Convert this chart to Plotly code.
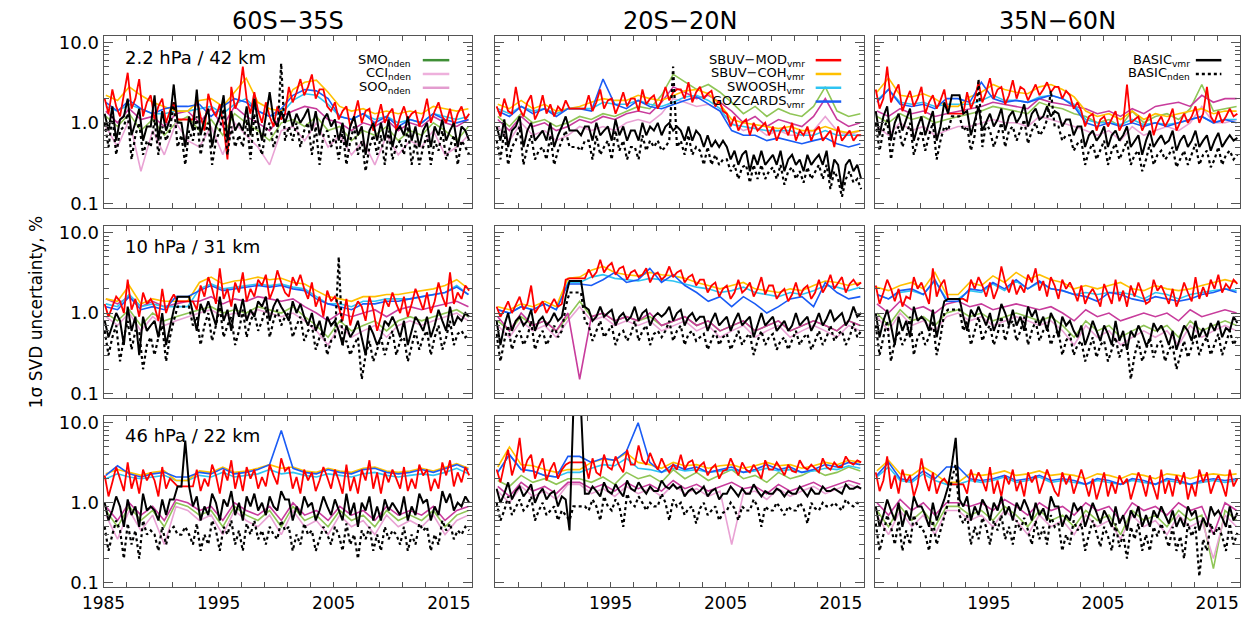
import plotly.graph_objects as go

# ---------------- time axes (4-monthly and annual sampling) ----------------
T_4M = [round(1985.1 + i / 3, 3) for i in range(96)]
T_YEAR = [round(1985.2 + i * 31.5 / 31, 3) for i in range(32)]

COL_TITLES = ["60S\u221235S", "20S\u221220N", "35N\u221260N"]
ROW_LABELS = ["2.2 hPa / 42 km", "10 hPa / 31 km", "46 hPa / 22 km"]
X_TICKS_FIRST = [1985, 1995, 2005, 2015]
X_TICKS_OTHER = [1995, 2005, 2015]
Y_TICKS = [0.1, 1.0, 10.0]
Y_TICK_TEXT = ["0.1", "1.0", "10.0"]

# ================= Row 1 : 2.2 hPa =================
# --- 60S-35S ---
P11_MOD = [2.0,1.3,2.6,1.6,1.2,2.3,4.2,1.5,2.0,3.5,1.2,1.8,
           2.2,1.1,1.6,2.0,1.0,1.4,1.8,1.1,1.1,1.1,1.1,1.1,
           2.0,1.2,0.8,2.3,1.5,1.2,1.7,0.9,0.35,2.8,1.5,2.0,
           5.0,2.0,1.3,2.4,1.4,1.0,1.8,1.2,0.9,1.6,1.1,1.3,
           2.8,1.8,2.4,3.5,2.2,2.8,4.0,2.0,2.6,2.6,1.6,1.4,
           1.8,1.1,1.4,1.6,0.9,1.2,1.9,1.0,1.4,1.5,0.8,1.1,
           1.7,1.0,1.3,1.5,0.8,1.2,1.6,1.1,1.3,1.4,0.9,1.2,
           2.0,1.0,1.4,1.8,1.2,1.0,1.5,0.9,1.3,1.6,1.1,1.3]
P11_BVMR = [1.3,0.8,1.6,0.6,1.1,1.2,2.0,0.7,1.0,1.5,0.6,0.9,
            0.9,2.2,0.6,1.4,0.8,1.1,3.0,1.0,1.0,0.5,1.2,0.8,
            2.6,0.7,1.1,1.5,0.5,0.9,1.2,2.2,0.6,1.4,0.8,1.0,
            0.8,1.6,0.7,2.0,1.0,0.6,1.2,2.4,1.1,0.9,1.4,1.0,
            1.4,0.9,1.3,1.0,1.2,1.5,0.8,1.4,0.7,1.1,1.3,0.9,
            1.1,0.6,1.0,0.5,0.9,1.2,0.7,0.9,0.4,0.8,1.0,0.6,
            1.0,0.6,1.1,0.5,0.8,0.9,0.7,1.2,0.6,0.9,0.5,0.8,
            1.0,0.5,0.9,0.7,1.1,0.6,0.8,1.0,0.5,0.9,0.8,0.6]
P11_BNDEN = [1.0,0.5,1.2,0.4,0.8,0.9,1.3,0.35,0.7,1.0,0.4,0.6,
             0.5,1.1,0.4,0.9,0.6,0.8,1.8,0.5,0.7,0.3,0.8,0.6,
             1.2,0.4,0.7,1.0,0.3,0.6,0.8,1.5,0.4,0.9,0.5,0.7,
             0.5,1.1,0.35,1.3,0.6,0.4,0.8,1.0,0.5,0.7,5.5,0.6,
             0.9,0.6,1.0,0.5,0.8,1.0,0.4,0.9,0.3,0.7,0.8,0.5,
             0.7,0.35,0.8,0.3,0.6,0.9,0.4,0.6,0.25,0.5,0.7,0.4,
             0.7,0.3,0.8,0.35,0.5,0.6,0.4,0.9,0.3,0.6,0.3,0.5,
             0.7,0.3,0.6,0.45,0.8,0.35,0.5,0.7,0.3,0.6,0.5,0.4]
P11_COH = [2.2,1.9,2.8,2.2,1.8,1.6,1.4,1.4, 1.9,2.0,1.6,2.4,3.6,1.8,1.5,1.4,
           2.6,3.2,3.4,2.4,1.6,1.4,1.5,1.3, 1.4,1.3,1.4,1.3,1.6,1.5,1.4,1.5]
P11_SWOOSH = [1.6,1.4,1.7,1.5,1.3,1.3,1.4,1.4, 1.5,1.6,1.3,1.7,2.0,1.4,1.2,1.3,
              1.9,2.3,2.2,1.7,1.2,1.1,1.3,1.1, 1.2,1.0,1.1,1.0,1.3,1.2,1.1,1.2]
P11_GOZ = [1.8,1.4,1.9,1.5,1.3,1.5,1.6,1.6, 1.7,1.2,1.6,2.0,1.8,1.4,1.2,1.5,
           2.2,2.6,2.5,2.0,1.2,1.1,1.3,1.0, 1.2,0.9,1.1,1.0,1.3,1.1,1.0,1.1]
P11_SMO = [1.2,0.9,1.3,0.8,1.1,0.7,1.0,1.2, 0.8,1.1,0.7,1.3,1.0,0.8,0.6,1.0,
           1.1,0.9,1.2,0.8,0.9,0.6,0.8,0.7, 0.9,0.6,0.8,0.7,1.0,0.8,0.6,0.9]
P11_CCI = [0.9,0.5,1.1,0.25,0.8,0.4,1.0,0.6, 0.5,0.9,0.4,1.0,0.7,0.5,0.3,0.8,
           0.9,0.6,1.0,0.5,0.7,0.4,0.6,0.3, 0.7,0.4,0.6,0.5,0.8,0.4,0.5,0.7]
P11_SOO = [1.4,1.0,1.5,1.1,1.2,0.9,1.3,1.4, 1.0,1.5,0.9,1.6,1.2,1.0,0.8,1.2,
           1.4,1.6,1.5,1.1,1.0,0.8,1.0,0.9, 1.1,0.8,1.0,0.9,1.2,1.0,0.9,1.1]

# --- 20S-20N ---
P12_MOD = [1.6,1.2,2.0,1.4,1.3,2.8,1.5,1.2,1.8,2.2,1.1,1.4,
           2.2,1.3,1.7,1.2,1.6,1.4,1.9,1.5,1.5,1.5,1.5,1.5,
           2.2,1.4,1.8,2.6,1.5,1.9,2.0,1.3,1.7,2.4,1.6,2.0,
           2.0,1.4,2.6,1.7,2.0,2.2,1.5,1.9,2.8,1.9,2.4,2.6,
           2.6,2.0,3.2,1.8,2.4,2.8,2.0,2.3,2.5,1.6,1.9,1.4,
           1.3,0.9,1.2,0.8,1.0,1.1,0.7,1.0,0.8,0.9,1.0,0.7,
           0.9,0.6,0.8,0.9,0.7,1.0,0.6,0.8,0.7,0.9,0.6,0.8,
           0.9,0.6,0.7,0.8,0.5,0.9,0.6,0.7,0.8,0.6,0.7,0.7]
P12_BVMR = [0.9,0.6,1.1,0.5,0.8,0.9,1.2,0.5,0.8,1.0,0.6,0.7,
            0.8,0.6,1.0,0.5,0.7,0.9,1.2,0.8,0.8,0.8,0.7,0.9,
            0.9,0.6,1.0,0.7,0.8,0.9,0.6,1.1,0.7,0.9,0.6,0.8,
            0.8,0.6,1.0,0.7,0.9,0.8,1.0,0.7,0.9,1.0,0.8,0.9,
            0.8,0.6,0.9,0.6,0.8,0.7,0.5,0.7,0.5,0.6,0.5,0.6,
            0.5,0.35,0.45,0.3,0.4,0.45,0.25,0.4,0.3,0.45,0.3,0.35,
            0.4,0.3,0.45,0.25,0.35,0.4,0.3,0.35,0.25,0.4,0.3,0.35,
            0.4,0.3,0.45,0.2,0.35,0.3,0.15,0.3,0.35,0.25,0.3,0.2]
P12_BNDEN = [0.6,0.35,0.8,0.3,0.5,0.6,0.9,0.3,0.5,0.7,0.35,0.45,
             0.5,0.35,0.7,0.3,0.45,0.6,0.8,0.5,0.5,0.5,0.45,0.6,
             0.6,0.35,0.7,0.4,0.5,0.6,0.35,0.8,0.45,0.6,0.35,0.5,
             0.5,0.35,0.7,0.45,0.6,0.5,0.6,0.45,0.5,0.6,5.0,0.5,
             0.6,0.4,0.7,0.4,0.5,0.45,0.3,0.5,0.3,0.4,0.3,0.35,
             0.35,0.25,0.3,0.2,0.28,0.3,0.18,0.3,0.2,0.3,0.2,0.25,
             0.28,0.2,0.3,0.17,0.25,0.28,0.2,0.25,0.18,0.28,0.2,0.25,
             0.3,0.2,0.3,0.15,0.25,0.2,0.12,0.2,0.25,0.18,0.2,0.15]
P12_COH = [1.7,1.5,1.9,1.5,1.7,1.4,1.5,1.6, 1.8,2.0,1.9,1.9,2.2,2.0,1.9,2.2,
           2.5,2.6,2.3,1.7,1.1,1.0,0.95,0.9, 0.85,0.9,0.8,0.8,0.9,0.8,0.75,0.8]
P12_SWOOSH = [1.5,1.3,1.6,1.4,1.5,1.3,1.5,1.5, 1.5,1.8,1.7,1.7,1.9,1.7,1.6,1.8,
              2.1,2.2,1.9,1.5,0.95,0.9,0.85,0.8, 0.8,0.8,0.7,0.7,0.8,0.7,0.7,0.7]
P12_GOZ = [1.4,1.2,1.6,1.3,1.5,1.2,1.5,1.5, 1.4,3.5,1.7,1.5,1.9,1.6,1.5,1.7,
           1.9,2.1,1.7,1.4,0.8,0.7,0.7,0.6, 0.65,0.6,0.55,0.6,0.65,0.55,0.5,0.55]
P12_SMO = [1.2,0.9,1.3,1.0,1.1,0.9,1.0,1.2, 1.1,1.3,1.2,1.4,1.6,1.5,2.2,4.0,
           3.2,2.6,3.0,2.4,1.8,1.3,1.6,1.2, 1.5,1.3,1.2,1.6,2.8,1.4,1.2,1.3]
P12_CCI = [0.9,0.6,1.0,0.7,0.8,0.6,0.7,0.9, 0.8,0.9,0.8,1.0,1.1,1.0,1.3,2.0,
           1.8,1.6,1.7,1.4,1.0,0.8,0.9,0.7, 0.8,0.7,0.7,0.8,1.2,0.8,0.7,0.8]
P12_SOO = [1.1,0.8,1.2,0.9,1.0,0.8,0.9,1.1, 1.0,1.2,1.1,1.3,1.4,1.3,1.8,2.8,
           2.4,2.0,2.2,1.8,1.4,1.0,1.2,0.9, 1.1,1.0,0.9,1.2,2.0,1.1,0.9,1.0]

# --- 35N-60N ---
P13_MOD = [2.6,1.5,2.0,5.0,1.8,2.4,3.0,1.4,1.9,2.5,1.6,2.0,
           2.8,1.3,1.8,2.2,1.5,1.9,2.6,1.3,1.3,1.3,1.3,1.3,
           2.4,1.5,2.0,3.2,1.8,2.4,3.6,2.0,2.6,2.8,1.7,2.2,
           3.4,2.0,2.8,2.6,1.9,2.4,3.0,2.2,2.6,3.2,2.4,2.8,
           2.8,2.0,2.5,2.2,1.5,1.8,1.4,0.9,1.2,1.3,0.8,1.1,
           1.2,0.9,1.1,1.4,0.8,1.0,3.0,1.0,1.1,1.2,0.8,1.0,
           1.3,0.7,1.0,1.2,0.9,1.1,1.5,0.8,1.0,1.3,1.0,1.2,
           1.6,1.0,1.3,2.8,1.2,1.0,1.4,1.0,1.2,1.5,1.2,1.3]
P13_BVMR = [1.4,0.7,1.2,1.6,0.6,1.0,1.3,0.8,1.1,1.5,0.6,0.9,
            1.2,0.7,1.0,1.4,0.6,0.9,1.8,1.3,2.2,2.2,2.2,1.3,
            1.4,0.7,1.1,1.6,0.8,1.0,1.3,0.9,1.1,1.5,0.8,1.2,
            1.4,1.0,1.2,1.7,0.9,1.3,1.5,1.1,1.2,1.6,1.2,1.4,
            1.3,0.9,1.1,1.1,0.7,0.9,0.9,0.5,0.7,0.8,0.6,0.7,
            0.9,0.5,0.7,0.8,0.6,0.7,0.9,0.5,0.6,0.7,0.4,0.6,
            0.8,0.5,0.6,0.7,0.55,0.6,0.8,0.45,0.6,0.7,0.5,0.6,
            0.8,0.5,0.6,0.7,0.45,0.6,0.75,0.5,0.6,0.7,0.6,0.65]
P13_BNDEN = [1.0,0.45,0.8,1.1,0.35,0.7,0.9,0.5,0.7,1.0,0.4,0.6,
             0.8,0.45,0.7,1.0,0.35,0.6,0.9,0.8,1.2,1.2,1.2,0.8,
             0.9,0.45,0.7,3.5,0.5,1.0,0.8,0.5,0.7,1.0,0.5,0.8,
             0.9,0.6,0.8,1.1,0.55,0.8,1.0,0.7,0.8,1.1,2.5,0.9,
             0.9,0.6,0.7,0.7,0.45,0.55,0.6,0.3,0.45,0.55,0.35,0.45,
             0.6,0.3,0.45,0.55,0.35,0.45,0.6,0.3,0.4,0.45,0.25,0.35,
             0.55,0.3,0.4,0.45,0.35,0.4,0.5,0.28,0.35,0.45,0.3,0.4,
             0.55,0.3,0.4,0.45,0.28,0.35,0.5,0.3,0.4,0.45,0.35,0.4]
P13_COH = [2.4,3.6,2.2,2.1,2.3,2.0,1.6,1.6, 2.1,2.4,3.0,2.6,2.4,2.3,2.8,3.0,
           2.6,2.1,1.4,1.2,1.3,1.1,1.4,1.1, 1.3,1.2,1.3,1.4,1.5,1.3,1.4,1.4]
P13_SWOOSH = [1.9,2.6,1.8,1.7,1.8,1.6,1.7,1.7, 1.7,1.9,2.2,1.9,1.9,1.8,2.1,2.2,
              2.0,1.7,1.1,1.0,1.0,0.95,1.1,0.95, 1.0,0.95,1.0,1.1,1.2,1.0,1.1,1.1]
P13_GOZ = [1.8,2.6,1.7,1.6,1.7,1.5,2.0,2.0, 1.8,3.2,2.0,1.8,1.9,1.8,2.0,2.2,
           2.0,1.6,1.0,0.9,1.0,0.9,1.0,0.9, 1.0,0.9,1.0,1.1,1.2,1.0,1.1,1.0]
P13_SMO = [1.2,1.0,1.3,1.1,1.2,1.0,1.1,1.2, 1.3,1.4,1.6,1.5,1.4,1.3,1.8,1.6,
           1.5,1.3,1.2,1.0,1.1,0.9,1.4,1.0, 1.2,1.3,1.1,1.5,3.0,1.4,1.5,1.6]
P13_CCI = [0.9,0.7,1.0,0.8,0.9,0.7,0.8,0.9, 0.9,1.0,1.1,1.0,1.0,0.9,1.2,1.1,
           1.0,0.9,0.8,0.7,0.8,0.6,0.9,0.7, 0.8,0.9,0.8,1.0,1.6,1.0,1.0,1.1]
P13_SOO = [1.4,1.2,1.5,1.3,1.4,1.2,1.3,1.4, 1.5,1.6,1.8,1.7,1.6,1.5,2.0,1.8,
           1.7,1.6,1.5,1.3,1.4,1.2,1.5,1.3, 1.6,1.7,1.8,1.6,2.2,1.8,2.0,2.0]

# ================= Row 2 : 10 hPa =================
# --- 60S-35S ---
P21_MOD = [1.3,0.9,1.2,1.6,1.4,1.0,2.6,1.1,1.5,0.9,1.8,1.3,
           1.5,1.2,0.8,2.0,1.0,1.4,1.7,1.4,1.4,1.4,1.4,1.4,
           1.1,2.2,1.6,2.8,2.0,1.3,3.6,1.5,2.0,1.2,2.4,1.8,
           3.2,1.4,2.0,1.6,2.6,2.2,3.0,1.5,2.0,3.4,2.4,1.8,
           1.6,2.8,2.2,3.0,2.0,1.5,2.4,1.2,1.6,0.9,1.9,1.4,
           1.6,1.2,0.8,1.5,0.7,1.1,1.4,1.2,0.8,1.6,1.1,0.6,
           0.9,1.5,1.2,1.8,1.3,1.0,1.6,0.9,1.3,2.0,1.5,1.1,
           1.8,1.0,1.4,2.4,1.6,1.2,3.2,1.3,1.8,1.5,2.2,1.9]
P21_BVMR = [0.8,0.5,0.7,1.0,0.8,0.4,1.2,0.6,0.9,0.3,0.9,0.6,
            0.7,0.8,0.5,1.0,0.4,0.7,1.1,1.6,1.6,1.6,1.6,1.0,
            0.6,1.3,1.0,1.4,1.0,0.7,1.6,0.8,1.1,0.6,1.3,0.9,
            1.5,0.8,1.1,0.9,1.4,1.2,1.6,0.8,1.2,1.5,1.2,1.0,
            0.8,1.4,1.0,1.3,0.9,0.7,1.0,0.6,0.8,0.5,0.9,0.7,
            0.8,0.6,0.4,0.7,0.5,0.6,0.8,0.5,0.3,0.7,0.55,0.4,
            0.5,0.8,0.7,0.9,0.7,0.5,0.8,0.4,0.6,0.9,0.75,0.6,
            0.9,0.5,0.7,1.1,0.8,0.6,1.2,0.7,0.9,0.8,1.0,0.9]
P21_BNDEN = [0.6,0.3,0.5,0.7,0.25,0.5,0.8,0.35,0.6,0.6,0.2,0.4,
             0.5,0.3,0.5,0.7,0.25,0.5,0.8,1.2,1.2,1.2,1.2,0.7,
             0.9,0.4,0.7,1.0,0.45,0.7,1.2,0.5,0.7,0.9,0.4,0.6,
             1.1,0.5,0.8,1.0,0.6,0.8,1.2,0.5,0.8,1.1,0.7,0.9,
             1.0,0.5,0.7,0.9,0.45,0.6,0.7,0.35,0.5,0.6,0.3,0.45,
             0.5,5.0,0.4,0.45,0.3,0.4,0.5,0.15,0.3,0.45,0.25,0.35,
             0.5,0.3,0.45,0.6,0.3,0.45,0.5,0.25,0.4,0.6,0.35,0.5,
             0.6,0.3,0.5,0.7,0.35,0.5,0.8,0.4,0.55,0.6,0.5,0.55]
P21_COH = [1.5,1.4,2.2,1.3,1.5,1.4,1.4,1.4, 2.4,2.8,2.3,2.5,2.6,2.8,2.6,2.7,
           2.4,2.3,1.9,1.6,1.5,1.4,1.6,1.6, 1.7,1.7,1.8,1.9,2.0,2.2,2.6,2.0]
P21_SWOOSH = [1.3,1.2,1.7,1.2,1.3,1.2,1.2,1.2, 2.0,2.3,2.0,2.1,2.2,2.3,2.2,2.3,
              2.1,2.0,1.6,1.3,1.3,1.2,1.4,1.4, 1.5,1.5,1.5,1.6,1.7,1.8,2.2,1.7]
P21_GOZ = [1.2,1.1,1.6,1.1,1.2,1.1,1.6,1.6, 1.9,2.2,1.9,2.0,2.1,2.2,2.1,2.2,
           2.0,1.9,1.5,1.3,1.2,1.1,1.3,1.3, 1.4,1.4,1.5,1.6,1.7,1.8,2.1,1.7]
P21_SMO = [1.0,0.8,1.1,0.7,1.0,0.8,0.9,1.0, 1.1,1.2,1.0,1.1,1.0,1.2,1.1,1.0,
           1.2,0.9,0.7,0.5,0.8,0.6,0.7,0.8, 0.6,0.8,0.9,0.8,0.9,1.0,1.1,0.9]
P21_CCI = [0.9,0.7,1.0,0.6,0.9,0.7,0.8,0.9, 1.0,1.1,0.9,1.0,0.9,1.1,1.0,0.9,
           1.0,0.8,0.6,0.4,0.7,0.5,0.6,0.7, 0.5,0.7,0.8,0.7,0.8,0.9,1.0,0.8]
P21_SOO = [1.5,1.3,1.6,1.2,1.4,1.2,1.3,1.4, 1.4,1.6,1.3,1.5,1.4,1.6,1.5,1.4,
           1.5,1.2,1.0,0.8,1.0,0.9,1.0,1.1, 0.9,1.1,1.2,1.1,1.2,1.3,1.4,1.2]

# --- 20S-20N ---
P22_MOD = [1.2,0.9,1.1,1.4,1.0,1.3,1.6,1.1,1.3,2.2,1.0,1.2,
           1.4,1.0,1.2,1.5,1.2,1.3,2.6,2.7,2.7,2.7,2.7,2.7,
           3.5,2.8,3.2,4.6,3.2,3.8,4.2,3.0,3.6,3.8,2.6,3.2,
           3.4,2.8,3.0,3.6,2.4,3.0,3.2,2.6,2.9,3.8,2.8,3.2,
           3.4,2.4,2.8,3.0,2.2,2.6,2.6,1.8,2.2,2.4,1.6,2.0,
           2.2,1.5,1.8,2.6,1.8,2.0,2.4,1.6,2.0,2.8,1.7,2.2,
           2.2,1.5,1.8,2.0,1.4,1.7,2.4,1.6,2.0,2.2,1.5,1.8,
           2.6,1.8,2.2,3.0,2.0,2.4,2.8,1.8,2.3,2.6,2.2,2.4]
P22_BVMR = [0.8,0.4,0.7,1.0,0.6,0.8,0.9,0.7,0.8,1.1,0.6,0.8,
            0.9,0.7,0.8,1.0,0.8,0.9,1.6,2.5,2.5,2.5,2.5,1.2,
            1.1,0.8,0.9,1.2,0.9,1.0,1.1,0.7,0.9,1.0,0.8,0.9,
            1.2,0.8,1.0,1.1,0.7,0.9,1.0,0.9,1.0,1.2,0.8,1.0,
            1.1,0.7,0.9,1.0,0.8,0.9,0.9,0.6,0.8,1.0,0.7,0.8,
            0.9,0.6,0.8,1.0,0.7,0.8,0.9,0.5,0.7,1.0,0.7,0.8,
            0.9,0.6,0.7,0.8,0.6,0.7,1.0,0.7,0.8,0.9,0.6,0.75,
            1.0,0.7,0.85,1.1,0.8,0.9,1.0,0.7,0.85,1.2,0.9,1.0]
P22_BNDEN = [0.55,0.25,0.45,0.7,0.35,0.5,0.6,0.4,0.5,0.8,0.35,0.5,
             0.6,0.4,0.5,0.7,0.5,0.6,1.2,1.8,1.8,1.8,1.8,0.8,
             0.7,0.45,0.6,0.8,0.5,0.6,0.7,0.4,0.55,0.6,0.45,0.55,
             0.8,0.45,0.6,0.7,0.4,0.55,0.6,0.5,0.6,0.8,0.45,0.6,
             0.7,0.4,0.55,0.6,0.45,0.5,0.55,0.35,0.45,0.6,0.4,0.5,
             0.55,0.35,0.45,0.6,0.4,0.5,0.55,0.3,0.45,0.6,0.4,0.5,
             0.55,0.35,0.45,0.5,0.35,0.45,0.6,0.4,0.5,0.55,0.35,0.45,
             0.6,0.4,0.5,0.7,0.45,0.55,0.6,0.4,0.5,0.75,0.5,0.6]
P22_COH = [1.2,1.1,1.3,1.2,1.4,1.2,2.7,2.8, 3.4,3.8,3.2,3.0,2.9,3.2,3.0,2.9,
           2.7,2.4,2.2,2.0,2.2,2.4,2.0,1.9, 1.8,2.0,1.9,2.2,2.5,2.4,2.2,2.4]
P22_SWOOSH = [1.1,1.0,1.2,1.1,1.3,1.1,2.4,2.4, 2.8,3.0,2.7,2.6,2.5,2.7,2.6,2.5,
              2.3,2.1,2.0,1.8,1.9,2.1,1.8,1.7, 1.6,1.8,1.7,1.9,2.2,2.1,1.9,2.1]
P22_GOZ = [1.1,1.0,1.2,1.1,1.3,1.1,2.3,2.3, 2.2,2.6,3.2,2.4,2.6,3.6,2.4,3.0,
           2.2,1.8,1.4,1.6,1.2,1.6,1.3,1.0, 1.2,1.5,1.6,1.2,2.4,1.8,1.5,1.6]
P22_SMO = [0.8,0.6,0.9,0.7,0.8,0.6,0.9,1.4, 0.9,1.0,0.8,0.9,0.8,0.9,0.7,0.8,
           0.9,0.7,0.8,0.6,0.7,0.8,0.6,0.7, 0.8,0.6,0.7,0.8,0.7,0.6,0.8,0.7]
P22_CCI = [0.7,0.5,0.8,0.6,0.7,0.5,0.8,1.2, 0.8,0.9,0.7,0.8,0.7,0.8,0.6,0.7,
           0.8,0.6,0.7,0.5,0.6,0.7,0.5,0.6, 0.7,0.5,0.6,0.7,0.6,0.5,0.7,0.6]
P22_SOO = [0.9,0.6,1.0,0.7,0.8,0.6,1.0,0.15, 0.9,1.0,0.8,0.9,0.8,1.0,0.7,0.8,
           0.9,0.7,0.8,0.6,0.7,0.8,0.6,0.7, 0.8,0.6,0.7,0.8,0.7,0.6,0.8,0.7]

# --- 35N-60N ---
P23_MOD = [2.2,1.3,1.8,2.6,2.0,1.4,2.0,1.2,1.6,1.5,2.8,2.0,
           2.4,1.8,1.3,3.6,1.6,2.2,2.6,1.5,1.5,1.5,1.5,1.5,
           1.4,2.6,2.0,2.8,2.2,1.6,2.4,1.5,2.0,3.8,2.4,1.8,
           2.6,1.7,2.2,1.8,3.0,2.4,3.6,1.9,2.5,1.6,2.8,2.2,
           1.5,2.6,2.0,2.4,1.9,1.4,2.2,1.3,1.7,2.0,1.6,1.2,
           2.3,1.7,1.3,2.6,1.4,1.9,1.2,2.2,1.6,2.4,1.8,1.3,
           1.4,2.6,1.9,2.2,1.7,1.3,2.0,1.2,1.6,2.4,1.8,1.4,
           2.8,1.5,2.1,1.6,2.6,2.0,3.0,1.8,2.3,2.0,2.6,2.3]
P23_BVMR = [1.0,0.5,0.8,1.1,0.7,0.4,0.9,0.6,0.8,0.5,1.2,0.8,
            0.9,0.8,0.6,1.1,0.5,0.8,1.4,1.5,1.5,1.5,1.5,0.9,
            0.6,1.1,0.9,1.2,0.9,0.7,1.0,0.6,0.8,1.3,1.0,0.7,
            1.1,0.7,0.9,0.6,1.2,0.9,1.1,0.7,0.9,0.6,1.0,0.8,
            0.5,0.9,0.7,0.8,0.6,0.5,0.7,0.4,0.55,0.8,0.6,0.45,
            0.7,0.55,0.4,0.8,0.45,0.6,0.35,0.6,0.5,0.7,0.55,0.4,
            0.45,0.75,0.6,0.7,0.55,0.4,0.6,0.35,0.5,0.7,0.6,0.45,
            0.8,0.5,0.65,0.5,0.75,0.6,0.8,0.5,0.65,0.6,0.9,0.75]
P23_BNDEN = [0.7,0.3,0.5,0.8,0.25,0.45,0.6,0.4,0.5,0.9,0.3,0.5,
             0.6,0.4,0.5,0.8,0.3,0.5,1.0,1.1,1.1,1.1,1.1,0.6,
             0.8,0.4,0.6,0.9,0.45,0.6,0.7,0.4,0.55,0.9,0.45,0.7,
             0.8,0.45,0.6,0.9,0.4,0.6,0.8,0.45,0.6,0.7,0.4,0.55,
             0.6,0.3,0.45,0.55,0.3,0.4,0.45,0.25,0.35,0.5,0.28,0.4,
             0.45,0.25,0.35,0.5,0.28,0.4,0.4,0.15,0.3,0.45,0.25,0.35,
             0.5,0.28,0.4,0.45,0.25,0.35,0.4,0.2,0.3,0.45,0.28,0.38,
             0.55,0.3,0.42,0.5,0.3,0.4,0.55,0.3,0.42,0.6,0.4,0.5]
P23_COH = [2.1,1.9,2.2,2.4,2.0,3.2,1.7,1.7, 2.4,2.2,2.9,2.4,3.2,2.6,3.0,2.6,
           2.4,2.0,2.2,2.0,2.2,2.4,2.0,1.9, 2.2,2.0,1.9,2.0,2.2,2.4,2.6,2.4]
P23_SWOOSH = [1.7,1.5,1.8,1.9,1.7,2.5,1.5,1.5, 1.9,1.8,2.3,1.9,2.5,2.0,2.4,2.0,
              1.9,1.7,1.8,1.7,1.8,1.8,1.7,1.5, 1.8,1.7,1.5,1.7,1.8,1.9,2.0,1.9]
P23_GOZ = [1.7,1.5,1.9,2.0,1.7,2.6,1.4,1.4, 2.0,1.9,2.4,2.0,2.6,2.0,2.5,2.0,
           1.9,1.7,1.6,1.4,1.8,1.7,1.5,1.4, 1.6,1.5,1.4,1.5,1.7,1.8,2.0,1.8]
P23_SMO = [1.0,0.7,1.1,0.8,0.9,0.7,1.0,1.1, 0.9,1.0,0.8,0.9,1.0,0.9,0.8,0.9,
           0.7,0.5,0.8,0.6,0.7,0.5,0.6,0.7, 0.6,0.7,0.5,0.8,0.6,0.7,0.8,0.7]
P23_CCI = [0.9,0.6,1.0,0.7,0.8,0.6,0.9,1.0, 0.8,0.9,0.7,0.8,0.9,0.8,0.7,0.8,
           0.6,0.4,0.7,0.5,0.6,0.4,0.5,0.6, 0.5,0.6,0.4,0.7,0.5,0.6,0.7,0.6]
P23_SOO = [1.3,1.0,1.4,1.1,1.2,1.0,1.3,1.4, 1.2,1.3,1.1,1.2,1.3,1.2,1.1,1.2,
           1.0,0.8,1.1,0.9,1.0,0.8,0.9,1.0, 0.9,1.0,0.8,1.1,0.9,1.0,1.1,1.0]

# ================= Row 3 : 46 hPa =================
# --- 60S-35S ---
P31_MOD = [2.2,1.2,1.8,2.8,2.0,1.4,3.2,1.5,2.2,1.3,2.6,1.9,
           2.4,1.9,1.2,2.8,1.5,2.0,1.8,1.6,1.6,1.6,1.6,1.6,
           2.6,1.4,2.0,1.6,3.0,2.2,1.3,2.6,1.9,3.4,1.5,2.4,
           1.4,2.8,2.0,2.6,1.5,2.1,1.6,3.0,2.2,1.7,3.6,2.5,
           2.8,1.5,2.1,1.3,2.6,1.9,2.4,1.4,1.9,2.8,2.1,1.5,
           2.6,1.9,1.3,3.0,1.4,2.1,1.3,2.6,1.9,3.4,1.5,2.4,
           1.3,2.4,1.8,2.6,2.0,1.5,2.8,1.4,2.0,1.5,3.0,2.2,
           2.6,1.4,2.0,1.5,3.2,2.2,3.4,1.6,2.4,1.8,2.8,2.2]
P31_BVMR = [1.0,0.6,0.8,1.2,0.9,0.5,1.1,0.7,0.9,0.5,1.3,0.8,
            0.9,0.8,0.6,1.1,0.7,1.1,1.1,1.6,1.6,6.0,1.6,0.9,
            1.2,0.6,0.9,0.7,1.3,1.0,0.6,1.1,0.9,1.4,0.7,1.0,
            0.6,1.2,0.9,1.3,0.8,1.0,0.7,1.2,0.9,0.8,1.4,1.1,
            1.1,0.6,0.9,0.7,1.2,0.9,1.0,0.6,0.8,1.2,0.9,0.7,
            1.1,0.8,0.6,1.3,0.7,1.0,0.5,1.0,0.8,1.2,0.6,0.9,
            0.6,1.1,0.8,1.0,0.85,0.7,1.2,0.6,0.9,0.7,1.3,1.0,
            1.1,0.6,0.9,0.7,1.4,1.0,1.3,0.8,1.0,0.9,1.2,1.0]
P31_BNDEN = [0.5,0.25,0.4,0.6,0.45,0.2,0.55,0.3,0.45,0.2,0.6,0.4,
             0.45,0.4,0.25,0.5,0.3,0.45,0.5,0.4,0.4,0.5,0.4,0.3,
             0.55,0.25,0.4,0.3,0.6,0.45,0.25,0.5,0.4,0.6,0.3,0.45,
             0.25,0.55,0.4,0.6,0.35,0.45,0.3,0.5,0.4,0.35,0.6,0.45,
             0.5,0.25,0.4,0.3,0.55,0.4,0.45,0.25,0.35,0.5,0.4,0.3,
             0.5,0.4,0.25,0.55,0.3,0.4,0.2,0.45,0.35,0.5,0.25,0.4,
             0.25,0.5,0.35,0.45,0.4,0.3,0.5,0.25,0.4,0.3,0.55,0.45,
             0.5,0.25,0.4,0.3,0.6,0.45,0.55,0.35,0.45,0.4,0.5,0.45]
P31_COH = [2.3,2.6,2.4,2.2,2.4,2.5,1.9,1.9, 2.5,2.4,2.8,2.4,2.5,2.7,3.0,2.7,
           2.8,2.5,2.4,2.7,2.5,2.4,2.7,2.8, 2.5,2.4,2.5,2.7,2.5,2.8,3.1,2.7]
P31_SWOOSH = [2.0,2.3,2.1,2.0,2.1,2.2,1.9,1.9, 2.2,2.1,2.4,2.1,2.2,2.3,2.6,2.3,
              2.4,2.2,2.1,2.3,2.2,2.1,2.3,2.4, 2.2,2.1,2.2,2.3,2.2,2.4,2.7,2.3]
P31_GOZ = [2.2,2.9,2.3,2.1,2.3,2.4,2.1,2.1, 2.4,2.3,2.7,2.3,2.4,2.6,3.0,8.0,
           2.7,2.4,2.3,2.6,2.4,2.3,2.6,2.7, 2.4,2.3,2.4,2.6,2.4,2.7,3.0,2.6]
P31_SMO = [0.8,0.5,0.9,0.6,0.8,0.5,1.0,0.9, 0.7,0.8,0.5,0.9,0.7,0.6,0.8,0.5,
           0.9,0.6,0.7,0.5,0.8,0.6,0.7,0.5, 0.8,0.6,0.7,0.6,0.8,0.5,0.7,0.8]
P31_CCI = [0.7,0.35,0.8,0.45,0.7,0.3,0.9,0.8, 0.6,0.7,0.4,0.8,0.6,0.5,0.7,0.4,
           0.8,0.5,0.6,0.4,0.7,0.5,0.6,0.4, 0.7,0.5,0.6,0.5,0.7,0.4,0.6,0.7]
P31_SOO = [0.9,0.6,1.0,0.7,0.9,0.6,1.1,1.0, 0.8,0.9,0.6,1.0,0.8,0.7,0.9,0.6,
           1.0,0.7,0.8,0.6,0.9,0.7,0.8,0.6, 0.9,0.7,0.8,0.7,0.9,0.6,0.8,0.9]

# --- 20S-20N ---
P32_MOD = [2.6,1.8,3.0,4.6,2.2,3.2,6.5,2.4,3.4,4.0,2.0,2.8,
           3.6,1.9,2.6,3.2,2.0,2.6,3.0,3.2,3.2,3.2,3.2,3.2,
           2.0,3.6,2.4,2.2,4.0,2.8,2.6,3.8,2.9,2.4,4.6,3.0,
           3.0,5.2,3.4,3.0,4.2,3.2,2.6,3.6,2.8,2.4,3.0,2.6,
           4.0,2.6,3.2,3.4,2.4,2.9,3.2,2.2,2.7,3.0,2.0,2.5,
           2.6,3.6,2.8,2.2,3.2,2.6,2.4,3.0,2.5,2.0,3.4,2.6,
           2.6,3.2,2.7,2.2,3.0,2.5,2.4,3.4,2.8,2.6,3.0,2.7,
           2.4,3.6,2.8,2.6,3.2,2.8,2.8,3.8,3.2,3.0,3.4,3.2]
P32_BVMR = [1.5,1.0,1.3,1.8,1.1,1.4,1.6,1.2,1.4,1.7,1.0,1.3,
            1.5,1.1,1.3,1.4,0.9,1.2,1.1,0.45,15.0,30.0,15.0,1.3,
            1.3,1.6,1.4,1.2,1.8,1.4,1.3,1.7,1.4,1.2,1.9,1.5,
            1.4,1.8,1.5,1.3,1.6,1.4,1.4,1.9,1.6,1.5,1.7,1.5,
            1.6,1.2,1.4,1.5,1.3,1.4,1.6,1.2,1.4,1.5,1.1,1.3,
            1.3,1.6,1.4,1.2,1.5,1.3,1.3,1.7,1.4,1.2,1.4,1.3,
            1.3,1.5,1.4,1.2,1.4,1.3,1.3,1.6,1.4,1.2,1.5,1.3,
            1.3,1.6,1.4,1.4,1.5,1.4,1.3,1.7,1.5,1.5,1.6,1.5]
P32_BNDEN = [1.0,0.6,0.8,1.2,0.7,0.9,1.1,0.8,0.9,1.2,0.6,0.8,
             1.0,0.7,0.8,0.9,0.6,0.8,0.7,0.6,0.9,0.9,0.9,0.9,
             0.8,1.1,0.9,0.6,1.2,0.9,0.8,1.1,0.9,0.5,1.3,1.0,
             0.9,1.2,1.0,0.8,1.0,0.9,0.9,1.3,1.0,0.6,1.1,0.9,
             1.0,0.7,0.85,0.9,0.55,0.85,1.0,0.7,0.8,0.9,0.6,0.75,
             0.8,1.0,0.85,0.6,0.9,0.8,0.8,1.1,0.9,0.5,0.9,0.8,
             0.8,1.0,0.85,0.7,0.9,0.8,0.8,1.0,0.85,0.55,1.0,0.85,
             0.8,1.0,0.9,0.9,1.0,0.9,0.8,1.1,0.95,0.9,1.0,0.95]
P32_COH = [2.8,5.0,3.0,2.9,2.6,2.4,2.6,2.6, 3.2,3.5,3.4,4.2,3.2,3.0,2.7,3.2,
           2.9,3.0,2.7,2.9,3.0,2.7,2.9,3.2, 2.9,3.0,2.7,2.9,3.2,3.0,3.4,3.2]
P32_SWOOSH = [2.4,4.0,2.6,2.5,2.2,2.1,2.4,2.4, 2.7,3.0,2.9,3.6,2.7,2.6,2.4,2.7,
              2.5,2.6,2.4,2.5,2.6,2.4,2.5,2.7, 2.5,2.6,2.4,2.5,2.7,2.6,2.9,2.7]
P32_GOZ = [2.4,4.0,2.6,2.5,2.2,2.1,3.8,3.8, 3.2,3.6,3.4,4.4,10.0,3.2,2.4,3.0,
           2.6,2.8,2.4,2.6,2.8,2.4,2.6,3.0, 2.6,2.8,2.4,2.6,3.0,2.8,3.2,3.0]
P32_SMO = [1.9,1.6,2.2,1.8,2.0,1.7,2.0,2.0, 1.8,2.1,1.7,2.4,2.0,2.2,1.8,2.6,
           2.0,2.4,1.9,2.2,2.6,2.0,2.2,1.8, 2.4,2.0,2.2,2.6,2.2,2.4,2.8,2.5]
P32_CCI = [1.4,1.0,1.6,1.2,1.4,1.1,1.7,1.7, 1.3,1.5,1.2,1.6,1.3,1.5,1.2,1.7,
           1.3,1.5,1.2,1.4,0.3,1.3,1.4,1.1, 1.5,1.2,1.4,1.6,1.3,1.5,1.7,1.5]
P32_SOO = [1.6,1.2,1.8,1.4,1.6,1.3,1.8,1.8, 1.5,1.7,1.4,1.8,1.5,1.7,1.4,1.9,
           1.5,1.7,1.4,1.6,1.8,1.5,1.6,1.3, 1.7,1.4,1.6,1.8,1.5,1.7,1.9,1.7]

# --- 35N-60N ---
P33_MOD = [2.4,1.4,1.9,3.8,1.5,2.2,1.3,2.6,1.8,2.2,1.2,1.7,
           3.6,2.0,1.4,2.4,1.3,1.8,2.0,1.7,1.7,1.7,1.7,1.7,
           1.3,2.6,1.8,2.4,1.9,1.4,2.8,1.3,1.9,1.2,2.2,1.7,
           2.6,1.4,1.9,1.2,2.4,1.8,2.2,1.3,1.8,2.6,1.9,1.4,
           1.2,2.4,1.7,2.2,1.3,1.8,2.6,1.8,1.2,2.0,1.1,1.6,
           2.4,1.2,1.8,1.3,2.2,1.7,2.0,1.1,1.6,2.4,1.8,1.2,
           2.2,1.6,1.1,2.6,1.3,1.9,1.2,2.2,1.7,2.4,1.1,1.7,
           1.2,2.6,1.8,2.4,1.3,1.8,2.2,1.7,1.2,2.6,1.6,2.0]
P33_BVMR = [0.9,0.5,0.7,1.1,0.8,0.6,1.0,0.5,0.8,0.6,1.2,0.9,
            0.9,0.7,0.5,1.0,0.6,0.8,1.1,1.6,3.0,6.5,1.1,0.9,
            1.2,0.6,0.9,0.7,1.1,0.9,0.6,1.0,0.8,1.2,0.7,0.9,
            0.6,1.0,0.8,1.1,0.85,0.6,1.0,0.7,0.85,0.6,1.2,0.9,
            0.9,0.5,0.7,0.6,1.0,0.8,0.9,0.5,0.7,1.0,0.75,0.55,
            0.8,0.65,0.5,0.9,0.55,0.7,0.45,0.8,0.65,0.9,0.5,0.7,
            0.5,0.8,0.65,0.9,0.7,0.55,0.8,0.5,0.65,0.5,0.9,0.7,
            0.8,0.45,0.65,0.5,0.9,0.7,0.8,0.65,0.5,0.9,0.6,0.75]
P33_BNDEN = [0.55,0.25,0.4,0.7,0.5,0.3,0.6,0.25,0.45,0.3,0.7,0.5,
             0.5,0.4,0.25,0.6,0.3,0.45,0.7,1.0,2.0,3.0,0.7,0.55,
             0.7,0.3,0.5,0.35,0.65,0.5,0.3,0.6,0.45,0.7,0.35,0.5,
             0.3,0.6,0.45,0.65,0.45,0.3,0.6,0.35,0.5,0.3,0.7,0.5,
             0.55,0.25,0.4,0.3,0.6,0.45,0.55,0.25,0.4,0.6,0.42,0.28,
             0.5,0.38,0.25,0.55,0.28,0.4,0.2,0.5,0.35,0.55,0.25,0.4,
             0.25,0.5,0.38,0.55,0.4,0.28,0.5,0.25,0.38,0.2,0.55,0.38,
             0.5,0.12,0.35,0.25,0.55,0.4,0.5,0.38,0.25,0.55,0.3,0.42]
P33_COH = [2.5,3.4,2.3,2.2,2.8,2.3,1.8,1.8, 2.3,2.2,2.3,2.5,2.2,2.3,2.5,2.2,
           2.3,2.2,2.0,2.3,2.2,2.0,2.3,2.2, 2.0,2.3,2.2,2.0,2.2,2.3,2.2,2.3]
P33_SWOOSH = [2.1,2.8,1.9,1.8,2.3,1.9,1.7,1.7, 1.9,1.8,1.9,2.1,1.8,1.9,2.1,1.8,
              1.9,1.8,1.7,1.9,1.8,1.7,1.9,1.8, 1.7,1.9,1.8,1.7,1.8,1.9,1.8,1.9]
P33_GOZ = [2.2,3.2,2.0,1.9,2.5,2.0,2.8,2.8, 2.0,1.9,2.0,2.2,1.9,2.0,2.2,1.9,
           2.0,1.9,1.7,2.0,1.9,1.7,2.0,1.9, 1.7,2.0,1.9,1.7,1.9,2.0,1.9,2.0]
P33_SMO = [0.8,0.5,0.9,0.6,0.8,0.5,0.9,0.9, 0.7,0.8,0.6,0.9,0.7,0.5,0.8,0.6,
           0.7,0.5,0.8,0.6,0.7,0.4,0.8,0.6, 0.7,0.5,0.8,0.6,0.7,0.15,0.8,0.6]
P33_CCI = [0.7,0.4,0.8,0.5,0.7,0.4,0.8,0.8, 0.6,0.7,0.5,0.8,0.6,0.4,0.7,0.5,
           0.6,0.4,0.7,0.5,0.6,0.35,0.7,0.5, 0.6,0.4,0.7,0.5,0.6,0.2,0.7,0.5]
P33_SOO = [1.0,0.7,1.1,0.8,1.0,0.7,1.0,1.0, 0.9,1.0,0.8,1.1,0.9,0.7,1.0,0.8,
           0.9,0.7,1.0,0.8,0.9,0.6,1.0,0.8, 0.9,0.7,1.0,0.8,0.9,0.4,1.0,0.8]

# ---------------- series styling (draw order: bottom -> top) ----------------
FONT = "DejaVu Sans, Liberation Sans, Arial, sans-serif"
STYLE = [
    # key, colour, dash, width, sampling
    ("SMO",    "#8fc556", "solid", 1.6, "year"),
    ("CCI",    "#e9a2d4", "solid", 1.6, "year"),
    ("SOO",    "#c83c9c", "solid", 1.6, "year"),
    ("SWOOSH", "#2ec4f2", "solid", 1.6, "year"),
    ("COH",    "#ffc000", "solid", 1.6, "year"),
    ("GOZ",    "#1a5cf5", "solid", 1.6, "year"),
    ("MOD",    "#ff0000", "solid", 1.8, "4m"),
    ("BNDEN",  "#000000", "dot",   2.2, "4m"),
    ("BVMR",   "#000000", "solid", 2.0, "4m"),
]

PANELS = {}
for r in (1, 2, 3):
    for c in (1, 2, 3):
        PANELS[(r, c)] = {key: globals()[f"P{r}{c}_{key}"] for key, *_ in STYLE}

W, H = 1242, 624
XPIX = [(83, 458), (482, 857), (868, 1240)]
YPIX = [(32, 207), (225, 400), (418, 592)]
XD = [[a / W, b / W] for a, b in XPIX]
YD = [[1 - b / H, 1 - a / H] for a, b in YPIX]

AX = "#555555"
fig = go.Figure()
layout = dict(width=W, height=H, margin=dict(l=0, r=0, t=0, b=0),
              paper_bgcolor="white", plot_bgcolor="white", showlegend=False,
              hovermode=False, font=dict(family=FONT, color="black"))

minor_y = [0.2, 0.3, 0.4, 0.5, 0.6, 0.7, 0.8, 0.9, 2, 3, 4, 5, 6, 7, 8, 9]

for r in (1, 2, 3):
    for c in (1, 2, 3):
        k = (r - 1) * 3 + c
        xn = "x" if k == 1 else f"x{k}"
        yn = "y" if k == 1 else f"y{k}"
        for key, col, dash, wid, samp in STYLE:
            vals = PANELS[(r, c)][key]
            t = T_YEAR if samp == "year" else T_4M
            n = min(len(t), len(vals))
            fig.add_trace(go.Scatter(x=t[:n], y=vals[:n], mode="lines",
                                     line=dict(color=col, width=wid, dash=dash),
                                     xaxis=xn, yaxis=yn, hoverinfo="skip"))
        xt = X_TICKS_FIRST if c == 1 else X_TICKS_OTHER
        layout["xaxis" if k == 1 else f"xaxis{k}"] = dict(
            domain=XD[c - 1], anchor=yn, range=[1985, 2017],
            tickmode="array", tickvals=xt, ticktext=[str(v) for v in xt],
            ticks="inside", ticklen=5, tickwidth=1, tickcolor=AX,
            showline=True, linecolor=AX, linewidth=1, mirror="allticks",
            showgrid=False, zeroline=False, showticklabels=(r == 3),
            tickfont=dict(size=17, family=FONT, color="black"),
            minor=dict(tick0=1985, dtick=2, ticks="inside", ticklen=5,
                       tickcolor=AX, showgrid=False),
        )
        layout["yaxis" if k == 1 else f"yaxis{k}"] = dict(
            domain=YD[r - 1], anchor=xn, type="log", range=[-1.06, 1.086],
            tickmode="array", tickvals=Y_TICKS, ticktext=Y_TICK_TEXT,
            ticks="inside", ticklen=9, tickwidth=1, tickcolor=AX,
            showline=True, linecolor=AX, linewidth=1, mirror="allticks",
            showgrid=False, zeroline=False, showticklabels=(c == 1),
            tickfont=dict(size=18, family=FONT, color="black"),
            minor=dict(tickmode="array", tickvals=minor_y, ticks="inside",
                       ticklen=5, tickcolor=AX, showgrid=False),
        )

ann = []
for c in range(3):
    xc = (XPIX[c][0] + XPIX[c][1]) / 2 / W
    ann.append(dict(text=COL_TITLES[c], x=xc, y=1 - 17 / H, xref="paper", yref="paper",
                    showarrow=False, xanchor="center", yanchor="middle",
                    font=dict(size=24, family=FONT, color="black")))
for r, yc in zip(range(3), (54, 246, 438)):
    ann.append(dict(text=ROW_LABELS[r], x=103 / W, y=1 - yc / H, xref="paper", yref="paper",
                    showarrow=False, xanchor="left", yanchor="middle",
                    font=dict(size=18, family=FONT, color="black")))
ann.append(dict(text="1\u03c3 SVD uncertainty, %", x=14 / W, y=1 - 312 / H,
                xref="paper", yref="paper", showarrow=False, textangle=-90,
                xanchor="center", yanchor="middle",
                font=dict(size=17, family=FONT, color="black")))

# legend entries (text right aligned, sample line to the right)
LEGEND = [
    ("SMO<sub>nden</sub>", "#3f8f36", "solid", 398, 408, 435, 57),
    ("CCI<sub>nden</sub>", "#eeb0dc", "solid", 398, 408, 435, 71),
    ("SOO<sub>nden</sub>", "#e39ccf", "solid", 398, 408, 435, 85),
    ("SBUV\u2212MOD<sub>vmr</sub>", "#ff0000", "solid", 799, 808, 834, 57),
    ("SBUV\u2212COH<sub>vmr</sub>", "#ffc000", "solid", 799, 808, 834, 71),
    ("SWOOSH<sub>vmr</sub>", "#2ec4f2", "solid", 799, 808, 834, 85),
    ("GOZCARDS<sub>vmr</sub>", "#1a5cf5", "solid", 799, 808, 834, 99),
    ("BASIC<sub>vmr</sub>", "#000000", "solid", 1191, 1195, 1221, 57),
    ("BASIC<sub>nden</sub>", "#000000", "dot", 1191, 1195, 1221, 71),
]
shapes = []
for txt, col, dash, xr, x0, x1, yy in LEGEND:
    ann.append(dict(text=txt, x=xr / W, y=1 - yy / H, xref="paper", yref="paper",
                    showarrow=False, xanchor="right", yanchor="middle",
                    font=dict(size=13, family=FONT, color="black")))
    shapes.append(dict(type="line", xref="paper", yref="paper",
                       x0=x0 / W, x1=x1 / W, y0=1 - yy / H, y1=1 - yy / H,
                       line=dict(color=col, width=2.5, dash=dash)))

layout["annotations"] = ann
layout["shapes"] = shapes
fig.update_layout(**layout)
fig.write_html("out.html")
